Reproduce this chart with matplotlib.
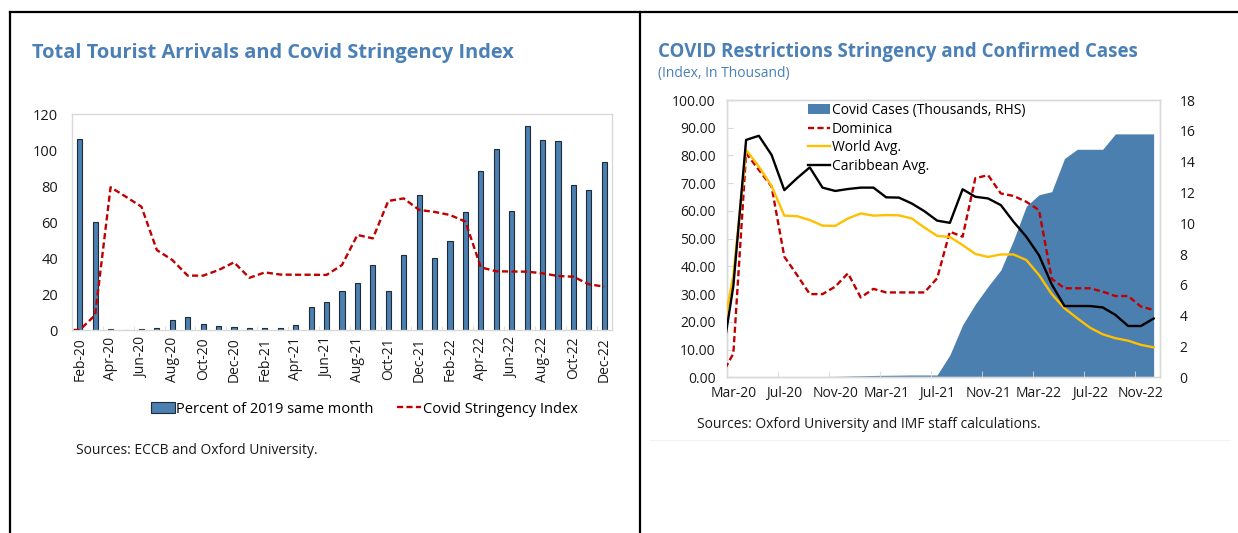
import matplotlib
matplotlib.use("Agg")
import matplotlib.pyplot as plt
import numpy as np
from matplotlib.lines import Line2D
from matplotlib.patches import Patch

plt.rcParams['font.family'] = ['Open Sans', 'DejaVu Sans']

# ---------------- data: left chart ----------------
bar_months = ["Feb-20", "Mar-20", "Apr-20", "May-20", "Jun-20", "Jul-20", "Aug-20", "Sep-20",
              "Oct-20", "Nov-20", "Dec-20", "Jan-21", "Feb-21", "Mar-21", "Apr-21", "May-21",
              "Jun-21", "Jul-21", "Aug-21", "Sep-21", "Oct-21", "Nov-21", "Dec-21", "Jan-22",
              "Feb-22", "Mar-22", "Apr-22", "May-22", "Jun-22", "Jul-22", "Aug-22", "Sep-22",
              "Oct-22", "Nov-22", "Dec-22"]
arrivals_pct = [106, 60, 0.5, 0.1, 0.5, 1.0, 5.5, 7.3, 3.4, 2.0, 1.9, 1.2, 1.3, 1.3, 2.7, 12.6,
                15.4, 21.5, 26.3, 36.1, 21.9, 41.9, 74.8, 40.0, 49.3, 65.7, 88.5, 100.4, 66.1,
                113.1, 105.6, 104.8, 80.4, 77.6, 93.1]
# stringency series starts one month earlier (Jan-20)
stringency_left = [0, 0, 8.3, 79.3, 74.0, 68.5, 44.4, 38.9, 30.2, 30.2, 33.3, 37.6, 29.0, 32.0,
                   30.8, 30.7, 30.7, 30.6, 36.1, 52.8, 50.9, 71.7, 73.1, 66.7, 65.6, 63.9, 60.2,
                   34.8, 32.6, 32.5, 32.4, 31.5, 30.0, 29.6, 25.4, 24.1]

# ---------------- data: right chart ----------------
# series start Feb-20 (clipped by axis which starts at Mar-20)
right_months = ["Feb-20"] + bar_months[1:]
dominica = [0.2, 8.6, 80.8, 74.8, 68.8, 43.5, 36.9, 30.0, 30.0, 32.7, 37.5, 28.8, 31.9, 30.6, 30.6,
            30.6, 30.6, 35.7, 52.5, 50.7, 71.8, 72.9, 66.3, 65.4, 63.3, 60.3, 35.5, 32.1, 32.1,
            32.1, 30.9, 29.3, 29.3, 25.5, 24.3]
world = [11.6, 37.0, 82.0, 76.0, 69.0, 58.3, 58.1, 56.7, 54.7, 54.6, 57.3, 59.1, 58.3, 58.5, 58.4,
         57.3, 54.0, 51.0, 50.6, 47.7, 44.5, 43.4, 44.3, 44.3, 42.3, 36.9, 30.0, 24.9, 21.3, 17.9,
         15.5, 14.1, 13.2, 11.7, 10.8]
caribbean = [3.6, 33.0, 85.6, 87.1, 80.2, 67.5, 71.8, 75.7, 68.4, 67.2, 67.9, 68.4, 68.4, 64.9, 64.8,
             62.7, 59.9, 56.5, 55.7, 67.8, 65.1, 64.5, 62.1, 56.1, 50.7, 44.0, 33.5, 25.7, 25.7,
             25.7, 25.2, 22.5, 18.5, 18.5, 21.2]
cases_thousands = [0, 0, 0, 0, 0, 0, 0.02, 0.03, 0.05, 0.06, 0.08, 0.10, 0.12, 0.13, 0.14, 0.15,
                   0.15, 0.15, 1.45, 3.4, 4.75, 5.9, 6.96, 8.9, 11.1, 11.85, 12.05, 14.2, 14.8,
                   14.8, 14.8, 15.8, 15.8, 15.8, 15.8]

BLUE = '#4a7fb0'
TITLE_BLUE = '#4a80b5'
RED = '#c00000'
YELLOW = '#ffc000'
TXT = '#1a1a1a'
GRID = '#d9d9d9'
DASH = (0, (2.6, 1.4))

W, H = 1238, 533
fig = plt.figure(figsize=(W / 100, H / 100), dpi=100)

def fx(px):
    return px / W

def fy(py):
    return 1 - py / H

# ---------------- left chart ----------------
axL = fig.add_axes([fx(72), fy(330), fx(612) - fx(72), fy(114) - fy(330)])
xb = np.arange(len(bar_months))
bars = axL.bar(xb, arrivals_pct, width=0.34, color=BLUE, edgecolor='#1f2a36', linewidth=0.8,
               zorder=2)
xs = np.arange(len(stringency_left)) - 1
axL.plot(xs, stringency_left, color=RED, lw=1.7, linestyle=DASH, zorder=3)
axL.set_xlim(-0.5, len(bar_months) - 0.5)
axL.set_ylim(0, 120)
axL.set_yticks(np.arange(0, 121, 20))
axL.set_xticks(xb[::2])
axL.set_xticklabels(bar_months[::2], rotation=90)
axL.set_xticks(xb[::2] - 0.5, minor=True)
axL.tick_params(axis='x', which='major', length=0, pad=5, labelsize=10, colors=TXT)
axL.tick_params(axis='x', which='minor', length=3, direction='in', color=GRID)
axL.tick_params(axis='y', length=0, pad=10, labelsize=10.5, colors=TXT)
for s in axL.spines.values():
    s.set_color(GRID)
    s.set_linewidth(1.0)
left_handles = [Patch(facecolor=BLUE, edgecolor='#1f2a36', linewidth=0.8),
                Line2D([], [], color=RED, lw=1.7, linestyle=DASH)]
axL.legend(left_handles, ['Percent of 2019 same month', 'Covid Stringency Index'],
           loc='center', bbox_to_anchor=(0.541, -0.366), ncol=2, frameon=False, fontsize=10.5,
           handlelength=1.65, handleheight=0.8, handletextpad=0.12, columnspacing=1.6)

fig.text(fx(32), fy(53), 'Total Tourist Arrivals and Covid Stringency Index', fontsize=14.4,
         fontweight='bold', color=TITLE_BLUE, va='center', ha='left')
fig.text(fx(76), fy(450), 'Sources: ECCB and Oxford University.', fontsize=10, color=TXT,
         va='center', ha='left')

# ---------------- right chart ----------------
axR = fig.add_axes([fx(727), fy(377.3), fx(1160) - fx(727), fy(100) - fy(377.3)])
axR2 = axR.twinx()
xr = np.arange(len(right_months)) - 1
axR2.fill_between(xr, cases_thousands, 0, color=BLUE, linewidth=0, zorder=1)
axR2.set_ylim(0, 18)
axR2.set_yticks(np.arange(0, 19, 2))

axR.set_zorder(axR2.get_zorder() + 1)
axR.patch.set_visible(False)
axR.plot(xr, dominica, color=RED, lw=1.7, linestyle=DASH, zorder=3)
axR.plot(xr, world, color=YELLOW, lw=1.7, zorder=3)
axR.plot(xr, caribbean, color='black', lw=1.7, zorder=4)
axR.set_xlim(-0.5, len(right_months) - 1.5)
axR2.set_xlim(-0.5, len(right_months) - 1.5)
axR.set_ylim(0, 100)
axR.set_yticks(np.arange(0, 101, 10))
axR.set_yticklabels([f'{v:.2f}' for v in np.arange(0, 101, 10)])
xlab = np.arange(0, len(right_months) - 1, 4)
axR.set_xticks(xlab)
axR.set_xticklabels(right_months[1:][::4])
axR.set_xticks(np.arange(3.5, len(right_months) - 2, 4), minor=True)
axR.tick_params(axis='x', which='major', length=0, pad=6, labelsize=10, colors=TXT)
axR.tick_params(axis='x', which='minor', length=4, direction='in', color=GRID)
axR.tick_params(axis='y', length=4, direction='in', color=GRID, pad=8, labelsize=10, colors=TXT)
axR2.tick_params(axis='y', length=0, pad=14, labelsize=10, colors=TXT)
for a in (axR, axR2):
    for s in a.spines.values():
        s.set_color(GRID)
        s.set_linewidth(1.0)

handles = [Patch(facecolor=BLUE, edgecolor='none'),
           Line2D([], [], color=RED, lw=1.7, linestyle=DASH),
           Line2D([], [], color=YELLOW, lw=1.7),
           Line2D([], [], color='black', lw=1.7)]
labels = ['Covid Cases (Thousands, RHS)', 'Dominica', 'World Avg.', 'Caribbean Avg.']
axR.legend(handles, labels, loc='upper left', bbox_to_anchor=(0.158, 1.035), frameon=False,
           fontsize=10, handlelength=1.6, handleheight=0.7, handletextpad=0.1, labelspacing=0.27)

fig.text(fx(658), fy(52), 'COVID Restrictions Stringency and Confirmed Cases', fontsize=13.4,
         fontweight='bold', color=TITLE_BLUE, va='center', ha='left')
fig.text(fx(658), fy(74), '(Index, In Thousand)', fontsize=10, color=TITLE_BLUE,
         va='center', ha='left')
fig.text(fx(697), fy(425), 'Sources: Oxford University and IMF staff calculations.', fontsize=10,
         color=TXT, va='center', ha='left')

# ---------------- panel frame lines ----------------
for (x0, y0, x1, y1) in [(10, 12, W, 12), (10, 12, 10, H), (640, 12, 640, H)]:
    fig.add_artist(Line2D([fx(x0), fx(x1)], [fy(y0), fy(y1)], color='black', lw=1.6,
                          transform=fig.transFigure))
fig.add_artist(Line2D([fx(650), fx(1230)], [fy(440), fy(440)], color='#f2f2f2', lw=0.8,
                      transform=fig.transFigure))

fig.savefig('out.png', dpi=100)
